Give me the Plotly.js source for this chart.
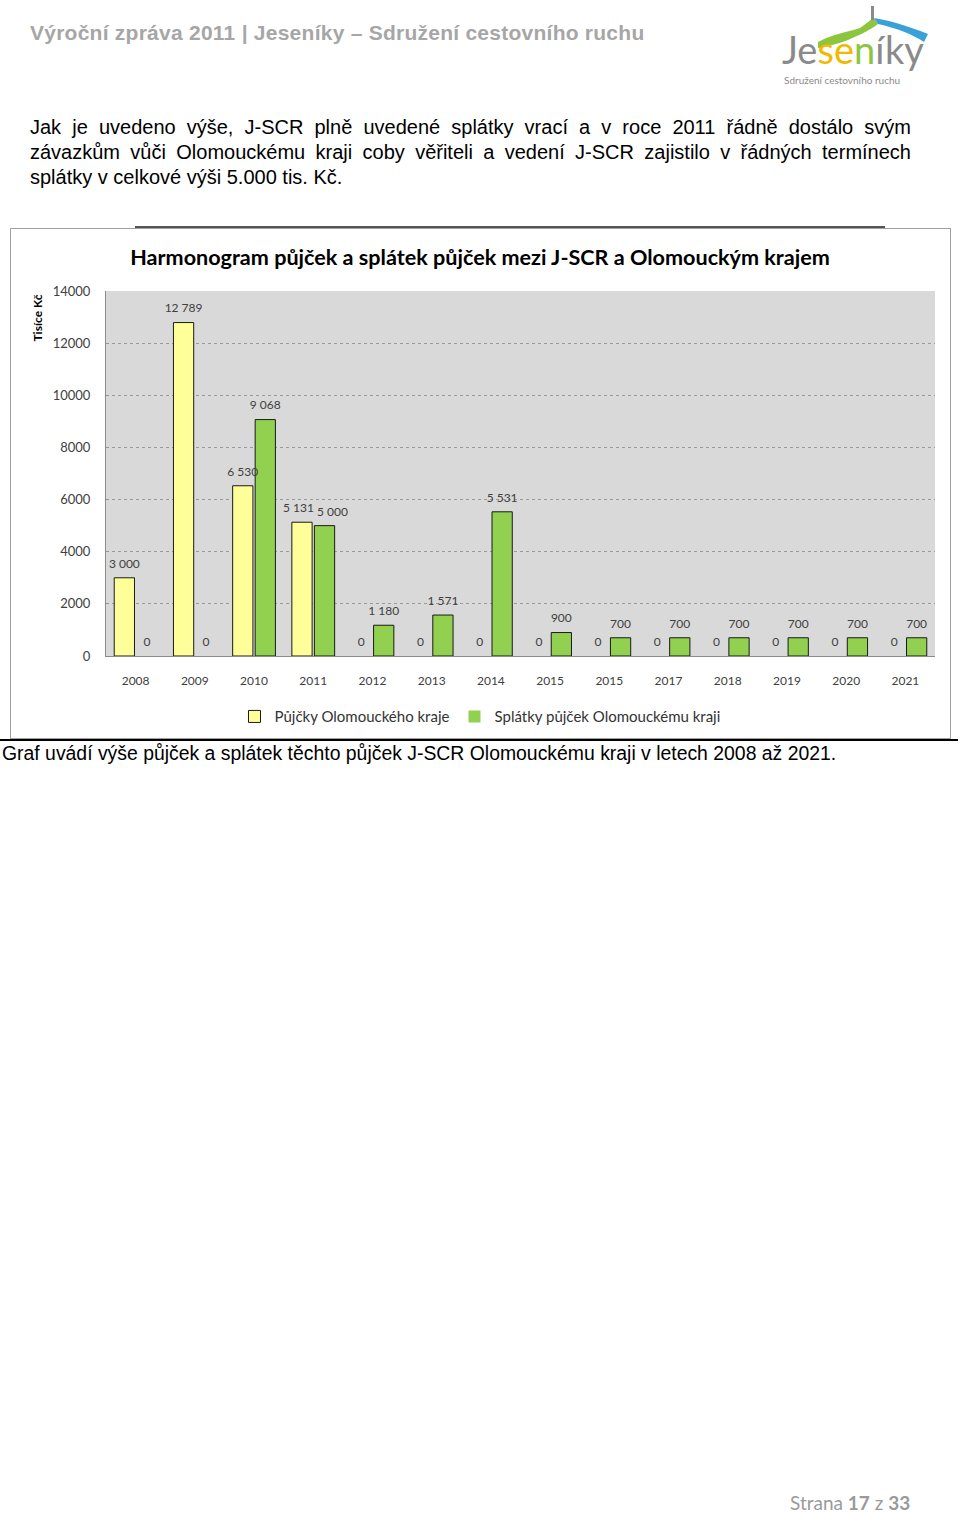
<!DOCTYPE html>
<html>
<head>
<meta charset="utf-8">
<script src="https://cdn.plot.ly/plotly-3.0.1.min.js"></script>
<style>
  html, body { margin:0; padding:0; background:#fff; }
  body { width:960px; height:1513px; position:relative; overflow:hidden; font-family:"Liberation Sans", Arial, sans-serif; }
  .abs { position:absolute; }
  #hdr { left:30px; top:21px; font-size:21px; letter-spacing:0.25px; font-weight:bold; color:#a6a6a6; white-space:nowrap; }
  .pl { left:30px; width:881px; font-size:20px; color:#000; white-space:nowrap; }
  .just { text-align:justify; text-align-last:justify; white-space:normal; }
  #frame { left:10px; top:228px; width:939px; height:509px; border:1px solid #a0a0a0; background:#fff; }
  #topline { left:135px; top:226px; width:750px; height:2px; background:#555; }
  #chart { left:11px; top:229px; width:938px; height:508px; }
  #rule { left:0px; top:739px; width:958px; height:2px; background:#000; }
  #cap { left:2px; top:742px; font-size:19.4px; color:#000; white-space:nowrap; }
  #foot { left:790px; top:1491px; font-family:Lato, "Noto Sans", sans-serif; font-size:19px; color:#9a9a9a; white-space:nowrap; }
</style>
</head>
<body>
<div id="hdr" class="abs">Výroční zpráva 2011 | Jeseníky – Sdružení cestovního ruchu</div>

<svg class="abs" style="left:778px;top:4px" width="160" height="86" viewBox="0 0 160 86">
  <path d="M40 38 C55 30, 70 28, 82 24 C88 20, 92 16, 96 14 L100 20 C92 26, 84 30, 70 36 C60 40, 50 42, 40 44 Z" fill="#8cc63f"/>
  <path d="M96 14 C110 16, 130 22, 150 30 L146 38 C134 30, 118 24, 100 20 Z" fill="#3aa0d8"/>
  <rect x="93" y="2" width="3" height="14" fill="#8a8a8a"/>
  <text x="4" y="60" font-family="Lato, 'Noto Sans', sans-serif" font-size="38" fill="#8a8a8a">Je<tspan fill="#f2b800">se</tspan><tspan fill="#8cc63f">n</tspan>íky</text>
  <text x="6" y="80" font-family="Lato, 'Noto Sans', sans-serif" font-size="10" fill="#8a8a8a">Sdružení cestovního ruchu</text>
</svg>

<div class="abs pl just" style="top:116px">Jak je uvedeno výše, J-SCR plně uvedené splátky vrací a v roce 2011 řádně dostálo svým</div>
<div class="abs pl just" style="top:141px">závazkům vůči Olomouckému kraji coby věřiteli a vedení J-SCR zajistilo v řádných termínech</div>
<div class="abs pl" style="top:166px">splátky v celkové výši 5.000 tis. Kč.</div>

<div id="frame" class="abs"></div>
<div id="topline" class="abs"></div>
<div id="chart" class="abs"></div>
<div id="rule" class="abs"></div>
<div id="cap" class="abs">Graf uvádí výše půjček a splátek těchto půjček J-SCR Olomouckému kraji v letech 2008 až 2021.</div>
<div id="foot" class="abs">Strana <b>17</b> z <b>33</b></div>

<script>
const years = ["2008","2009","2010","2011","2012","2013","2014","2015","2016","2017","2018","2019","2020","2021"];
// tick labels exactly as printed in the source chart (the 9th label reads "2015")
const yearLabels = ["2008","2009","2010","2011","2012","2013","2014","2015","2015","2017","2018","2019","2020","2021"];
const loans = [3000, 12789, 6530, 5131, 0, 0, 0, 0, 0, 0, 0, 0, 0, 0];
const repayments = [0, 0, 9068, 5000, 1180, 1571, 5531, 900, 700, 700, 700, 700, 700, 700];
const seriesNames = ["Půjčky Olomouckého kraje", "Splátky půjček Olomouckému kraji"];
const yTicks = [0, 2000, 4000, 6000, 8000, 10000, 12000, 14000];
const chartTitle = "Harmonogram půjček a splátek půjček mezi J-SCR a Olomouckým krajem";
const yTitle = "Tisíce Kč";

const fam = "Lato, 'Noto Sans', sans-serif";
const labelFont = {family: fam, size: 12, color: "#404040"};
const outlineW = v => v.map(d => d > 0 ? 1 : 0);

// crowded labels moved apart (pixel shift from the category centre), as in the source chart
const movedLabels = [
  {series: 0, idx: 3, xshift: -15},
  {series: 1, idx: 3, xshift: 19}
];
const seriesData = [loans, repayments];

function barTrace(i, vals, color) {
  return {type: "bar", name: seriesNames[i], x: years, y: vals, offsetgroup: String(i),
          marker: {color: color, line: {color: "#1a1a1a", width: outlineW(vals)}},
          textposition: "none", hoverinfo: "x+y"};
}
function labelTrace(i, vals) {
  const skip = new Set(movedLabels.filter(m => m.series === i).map(m => m.idx));
  return {type: "scatter", mode: "markers+text", x: years, y: vals, offsetgroup: String(i),
          marker: {size: 10, color: "rgba(0,0,0,0)"},
          texttemplate: vals.map((_, k) => skip.has(k) ? "" : "%{y:,}"),
          textposition: "top center", textfont: labelFont,
          cliponaxis: false, showlegend: false, hoverinfo: "skip"};
}

const traces = [
  barTrace(0, loans, "#ffff99"),
  barTrace(1, repayments, "#92d050"),
  labelTrace(0, loans),
  labelTrace(1, repayments)
];

const fmt = v => String(v).replace(/\B(?=(\d{3})+(?!\d))/g, " ");
const labelAnnotations = movedLabels.map(m => ({
  text: fmt(seriesData[m.series][m.idx]), x: m.idx, y: seriesData[m.series][m.idx],
  xref: "x", yref: "y", xanchor: "center", yanchor: "bottom", xshift: m.xshift, yshift: 5,
  showarrow: false, font: labelFont
}));

const layout = {
  width: 938, height: 508,
  margin: {l: 95, r: 14, t: 62, b: 81},
  paper_bgcolor: "#ffffff",
  plot_bgcolor: "#d9d9d9",
  separators: ", ",
  barmode: "group",
  bargap: 0.24,
  bargroupgap: 0.1,
  scattermode: "group",
  scattergap: 0.24,
  title: {text: "<b>" + chartTitle + "</b>", xref: "container", x: 0.5, xanchor: "center",
          yref: "container", y: 0.945, yanchor: "middle",
          font: {family: fam, size: 21.6, color: "#000"}},
  xaxis: {type: "category", categoryorder: "array", categoryarray: years,
          range: [-0.5, years.length - 0.5],
          tickmode: "array", tickvals: years, ticktext: yearLabels,
          showline: true, linecolor: "#8c8c8c", linewidth: 1,
          ticks: "outside", ticklen: 14, tickcolor: "rgba(0,0,0,0)",
          tickfont: {family: fam, size: 12, color: "#404040"},
          showgrid: false, zeroline: false, fixedrange: true},
  yaxis: {range: [0, 14000], tickvals: yTicks, tickformat: "d",
          showline: true, linecolor: "#8c8c8c", linewidth: 1,
          ticks: "outside", ticklen: 12, tickcolor: "rgba(0,0,0,0)",
          tickfont: {family: fam, size: 13, color: "#404040"},
          showgrid: true, gridcolor: "#9a9a9a", griddash: "dot", gridwidth: 1,
          zeroline: false, fixedrange: true},
  showlegend: true,
  legend: {orientation: "h", xref: "container", x: 0.5, xanchor: "center",
           yref: "container", y: 0.04, yanchor: "middle",
           font: {family: fam, size: 15, color: "#333"},
           itemwidth: 30, tracegroupgap: 0, bgcolor: "rgba(0,0,0,0)"},
  annotations: [
    {text: "<b>" + yTitle + "</b>", xref: "paper", yref: "paper", x: -0.083, y: 0.925,
     xanchor: "center", yanchor: "middle", textangle: -90, showarrow: false,
     font: {family: fam, size: 12, color: "#000"}}
  ].concat(labelAnnotations)
};

Plotly.newPlot("chart", traces, layout, {displayModeBar: false, staticPlot: true});
</script>
</body>
</html>
